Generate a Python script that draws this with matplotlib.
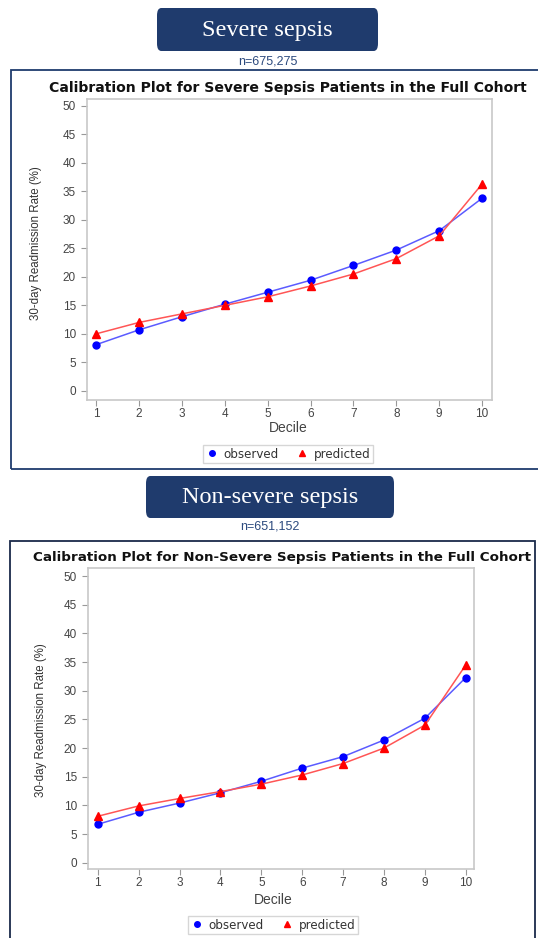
import matplotlib
matplotlib.use('Agg')
import matplotlib.pyplot as plt
from matplotlib.patches import FancyBboxPatch, Rectangle

plt.rcParams['font.family'] = ['Liberation Sans', 'DejaVu Sans']

# ---------------- data ----------------
deciles = [1, 2, 3, 4, 5, 6, 7, 8, 9, 10]
severe_observed = [8.1, 10.7, 13.0, 15.2, 17.3, 19.4, 22.0, 24.7, 28.1, 33.8]
severe_predicted = [10.0, 12.0, 13.5, 15.0, 16.5, 18.4, 20.5, 23.2, 27.2, 36.3]
nonsevere_observed = [6.7, 8.8, 10.4, 12.2, 14.2, 16.5, 18.5, 21.4, 25.2, 32.3]
nonsevere_predicted = [8.1, 9.9, 11.2, 12.4, 13.7, 15.3, 17.3, 20.0, 24.0, 34.5]
y_ticks = [0, 5, 10, 15, 20, 25, 30, 35, 40, 45, 50]

W, H = 538, 938
fig = plt.figure(figsize=(W / 100, H / 100), dpi=100)

NAVY = '#1f3b6d'


def fx(px):
    return px / W


def fy(py):
    return 1 - py / H


def header(x0, x1, y0, y1, label, n_text, n_y):
    box = FancyBboxPatch((fx(x0), fy(y1)), fx(x1 - x0), (y1 - y0) / H,
                         boxstyle='round,pad=0,rounding_size=0.008',
                         transform=fig.transFigure, facecolor=NAVY,
                         edgecolor='none')
    fig.patches.append(box)
    fig.text(fx((x0 + x1) / 2), fy((y0 + y1) / 2 + 1), label, color='white',
             family='Liberation Serif', fontsize=17.5, ha='center', va='center')
    fig.text(fx((x0 + x1) / 2), fy(n_y), n_text, color='#2c4a7e',
             fontsize=9, ha='center', va='center')


def panel(x0, x1, y0, y1, edge):
    fig.patches.append(Rectangle((fx(x0), fy(y1)), fx(x1 - x0), (y1 - y0) / H,
                                 transform=fig.transFigure, fill=False,
                                 edgecolor=edge, linewidth=1.3))


def calib(ax_px, title, title_x, title_y, title_size, obs, pred, ylim, xlim,
          ylab_x, ylab_y, xlab_y, leg_y, leg_x):
    l, r, t, b = ax_px
    ax = fig.add_axes([fx(l), fy(b), fx(r - l), (b - t) / H])
    ax.plot(deciles, obs, color='#5b5bff', lw=1.1, marker='o', ms=5,
            mfc='#0000ff', mec='#0000ff', label='observed')
    ax.plot(deciles, pred, color='#ff5555', lw=1.1, marker='^', ms=5.5,
            mfc='#ff0000', mec='#ff0000', label='predicted')
    ax.set_ylim(*ylim)
    ax.set_xlim(*xlim)
    ax.set_yticks(y_ticks)
    ax.set_xticks(deciles)
    for s in ax.spines.values():
        s.set_color('#c8c8c8')
        s.set_linewidth(1.2)
    ax.tick_params(colors='#999999', labelcolor='#444444', labelsize=8.5, length=4)
    ax.tick_params(axis='y', pad=4)
    ax.tick_params(axis='x', pad=2)
    fig.text(fx(title_x), fy(title_y), title, fontsize=title_size, family='DejaVu Sans',
             fontweight='bold', ha='center', va='center', color='#111111')
    fig.text(fx(ylab_x), fy(ylab_y), '30-day Readmission Rate (%)',
             rotation=90, fontsize=8.3, ha='center', va='center', color='#333333')
    fig.text(fx(leg_x), fy(xlab_y), 'Decile', fontsize=10, ha='center',
             va='center', color='#444444')
    ax.legend(loc='center', bbox_to_anchor=(fx(leg_x), fy(leg_y)),
              bbox_transform=fig.transFigure, ncol=2,
              prop={'family': 'DejaVu Sans', 'size': 8.6},
              frameon=True, fancybox=False, edgecolor='#cccccc',
              handlelength=1.0, handletextpad=0.5, columnspacing=1.4,
              borderpad=0.2, markerscale=0.8,
              labelcolor='#333333')
    for line in ax.get_legend().get_lines():
        line.set_linestyle('none')
    return ax


# ---------------- severe sepsis ----------------
header(157, 378, 8, 51, 'Severe sepsis', 'n=675,275', 61)
panel(11, 545, 70, 469, NAVY)
calib((87, 492, 99, 400),
      'Calibration Plot for Severe Sepsis Patients in the Full Cohort', 288, 88, 10.1,
      severe_observed, severe_predicted, (-1.6, 51.2), (0.79, 10.23),
      36, 243, 428, 454, 288)

# ---------------- non-severe sepsis ----------------
header(146, 394, 476, 518, 'Non-severe sepsis', 'n=651,152', 526)
panel(10, 535, 541, 945, '#1a2a4a')
calib((88, 474, 568, 869),
      'Calibration Plot for Non-Severe Sepsis Patients in the Full Cohort', 282, 557, 9.7,
      nonsevere_observed, nonsevere_predicted, (-1.1, 51.4), (0.76, 10.2),
      41, 720, 900, 925, 273)

fig.savefig('out.png', dpi=100)
